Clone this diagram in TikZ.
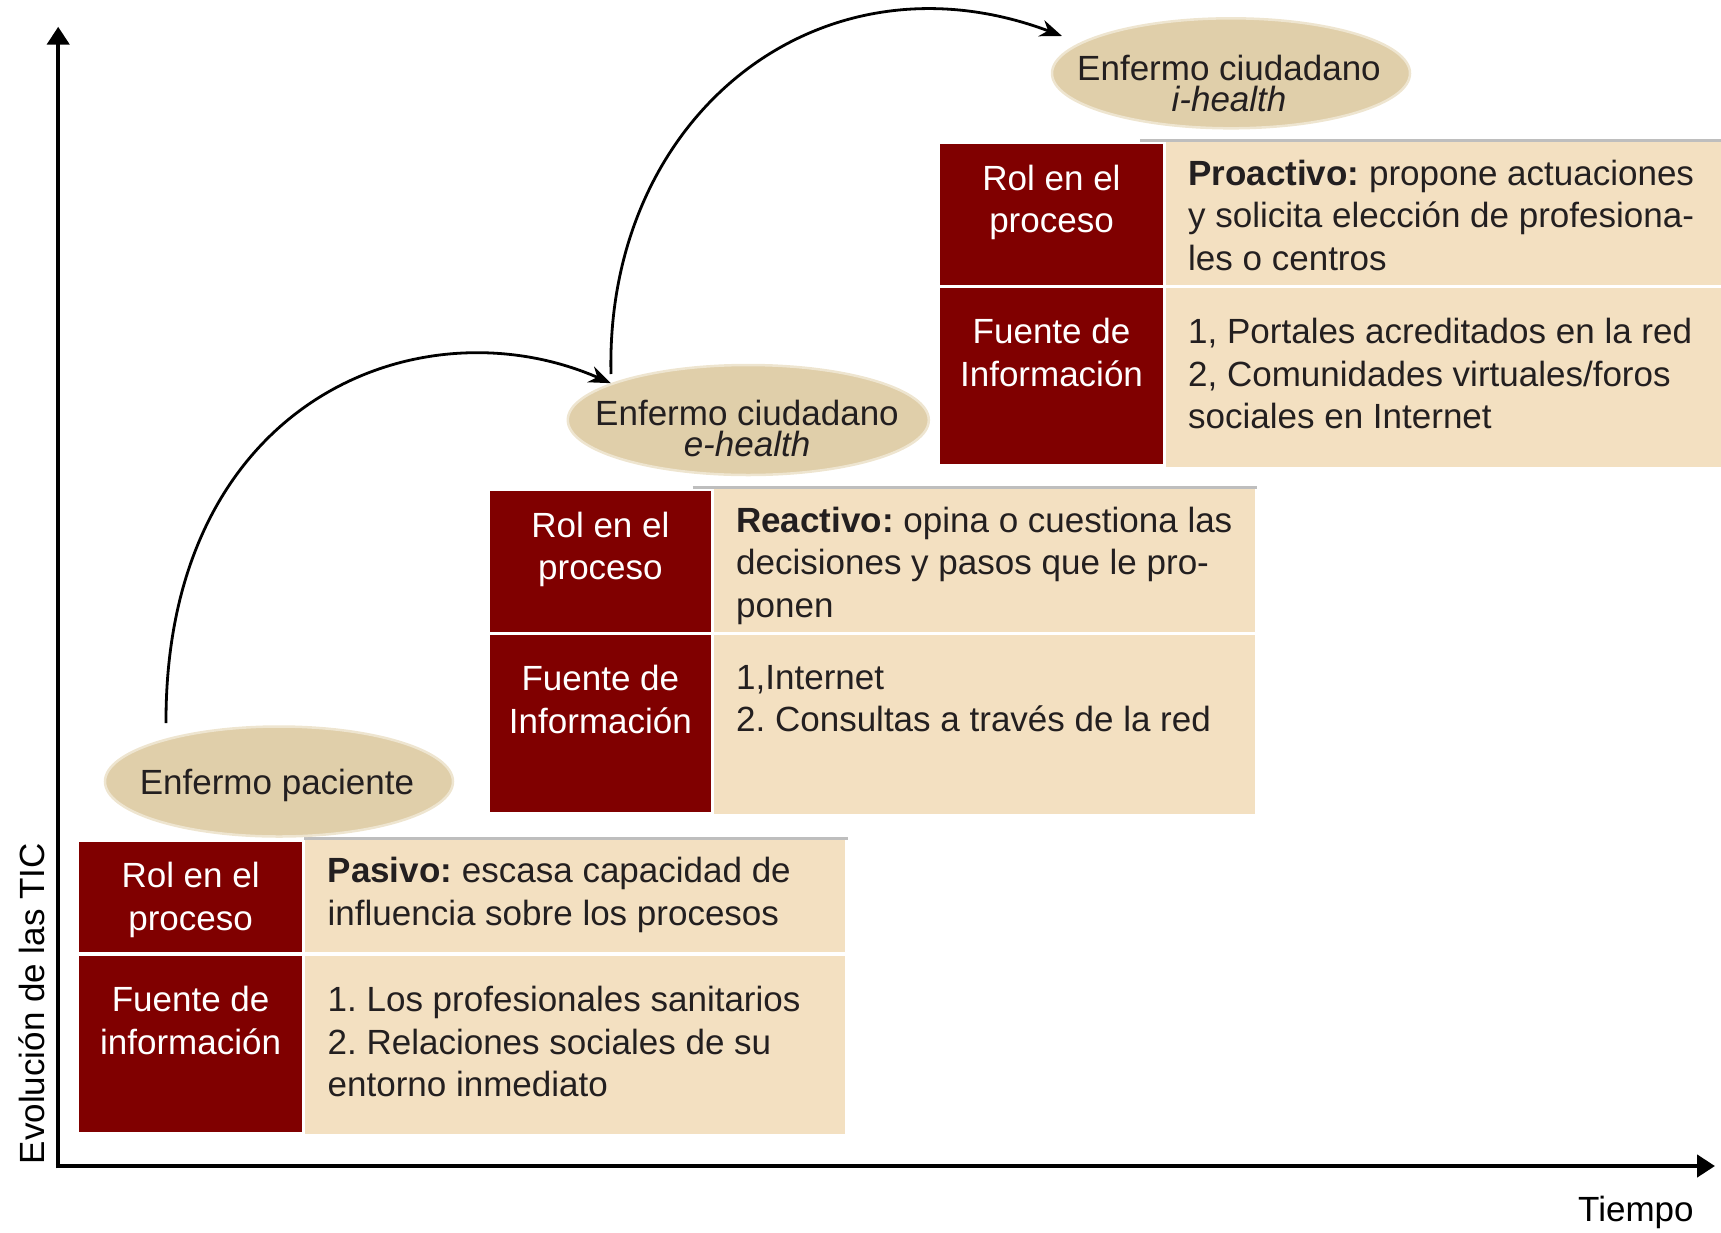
\documentclass[tikz,border=0pt]{standalone}
\usepackage{fontspec}
\setmainfont{Liberation Sans}
\usetikzlibrary{arrows.meta,shapes.geometric}
\definecolor{cellred}{RGB}{128,0,0}
\definecolor{cellbeige}{RGB}{243,224,193}
\definecolor{ovalfill}{RGB}{224,207,170}
\definecolor{txtdark}{RGB}{35,31,32}
\definecolor{rulegray}{RGB}{190,190,190}
\frenchspacing
\tikzset{
  redbox/.style={fill=cellred},
  beigebox/.style={fill=cellbeige},
  celltxt/.style={inner sep=0pt, font=\fontsize{35}{42.5}\selectfont},
  rtxt/.style={celltxt, text=white, align=center, anchor=north},
  btxt/.style={celltxt, text=txtdark, align=left, anchor=north west},
  oval/.style={ellipse, fill=ovalfill, draw=ovalfill!55!white, line width=2.5pt, inner sep=0pt},
  ovaltxt/.style={inner sep=0pt, text=txtdark, align=center, anchor=north, font=\fontsize{35}{31.7}\selectfont},
  axisline/.style={line width=4.5pt, -{Triangle[length=18pt,width=22pt]}},
  flow/.style={line width=2.8pt, -{Stealth[length=22pt,width=17pt]}},
  grayrule/.style={draw=rulegray, line width=3pt},
  axistxt/.style={inner sep=0pt, text=black, font=\fontsize{35}{42}\selectfont}
}
\begin{document}
\begin{tikzpicture}[x=1pt,y=-1pt]
\useasboundingbox (0,0) rectangle (1721,1232);

% axes
\coordinate (o) at (58.2,1166);
\coordinate (ytop) at (58.2,26.7);
\coordinate (xend) at (1715,1166);
\draw[axisline] ([yshift=-2.25pt]o) -- (ytop);
\draw[axisline] ([xshift=-2.25pt]o) -- (xend);
\node[axistxt, anchor=base west] (tiempo) at (1578,1221.7) {Tiempo};
\node[axistxt, anchor=base, rotate=90] (evol) at (44,1003.7) {Evolución de las TIC};

% ---- box 1
\fill[redbox] (79.2,841.5) rectangle (302,952.1);
\fill[redbox] (79.2,956.2) rectangle (302,1131.5);
\fill[beigebox] (305.4,839.5) rectangle (845,952.1);
\fill[beigebox] (305.4,956.2) rectangle (845,1134.2);
\draw[grayrule] (304,838) -- (848,838);
\node[rtxt] (r1a) at (190.6,862) {Rol en el\\proceso};
\node[rtxt] (r1b) at (190.6,986.2) {Fuente de\\información};
\node[btxt] (b1a) at (327.5,857) {\textbf{Pasivo:} escasa capacidad de\\influencia sobre los procesos};
\node[btxt] (b1b) at (327.5,986.2) {1. Los profesionales sanitarios\\2. Relaciones sociales de su\\entorno inmediato};

% ---- box 2
\fill[redbox] (489.7,491) rectangle (711,631.7);
\fill[redbox] (489.7,635) rectangle (711,811.7);
\fill[beigebox] (714,489) rectangle (1254.7,631.7);
\fill[beigebox] (714,635) rectangle (1254.7,814.3);
\draw[grayrule] (692.5,487) -- (1257,487);
\node[rtxt] (r2a) at (600.4,511.5) {Rol en el\\proceso};
\node[rtxt] (r2b) at (600.4,665) {Fuente de\\Información};
\node[btxt] (b2a) at (736,506.5) {\textbf{Reactivo:} opina o cuestiona las\\decisiones y pasos que le pro-\\ponen};
\node[btxt] (b2b) at (736,665) {1,Internet\\2. Consultas a través de la red};

% ---- box 3
\fill[redbox] (940.3,144.3) rectangle (1162.8,285);
\fill[redbox] (940.3,288.3) rectangle (1162.8,464.3);
\fill[beigebox] (1166,141.8) rectangle (1721,285);
\fill[beigebox] (1166,288.3) rectangle (1721,467.3);
\draw[grayrule] (1139.8,140.3) -- (1721,140.3);
\node[rtxt] (r3a) at (1051.5,164.8) {Rol en el\\proceso};
\node[rtxt] (r3b) at (1051.5,318.3) {Fuente de\\Información};
\node[btxt] (b3a) at (1188,159.8) {\textbf{Proactivo:} propone actuaciones\\y solicita elección de profesiona-\\les o centros};
\node[btxt] (b3b) at (1188,318.3) {1, Portales acreditados en la red\\2, Comunidades virtuales/foros\\sociales en Internet};

% ---- ellipses
\node[oval, minimum width=348pt, minimum height=110pt] (pac) at (279,781.5) {};
\node[ovaltxt] (pact) at (277,769.3) {Enfermo paciente};
\node[oval, minimum width=361pt, minimum height=110pt] (ehe) at (748.3,420) {};
\node[ovaltxt] (ehet) at (747,399.5) {Enfermo ciudadano\\\textit{e-health}};
\node[oval, minimum width=358pt, minimum height=110pt] (ihe) at (1231,73.3) {};
\node[ovaltxt] (ihet) at (1229,54.5) {Enfermo ciudadano\\\textit{i-health}};

% ---- curved arrows
\coordinate (a1s) at (166,723);
\coordinate (a2s) at (611,374);
\coordinate (a2e) at (1062,36);
\draw[flow] (a1s) .. controls (165,400) and (420,300) .. (ehe.165);
\draw[flow] (a2s) .. controls (605,115) and (820,-55) .. (a2e);
\end{tikzpicture}
\end{document}
